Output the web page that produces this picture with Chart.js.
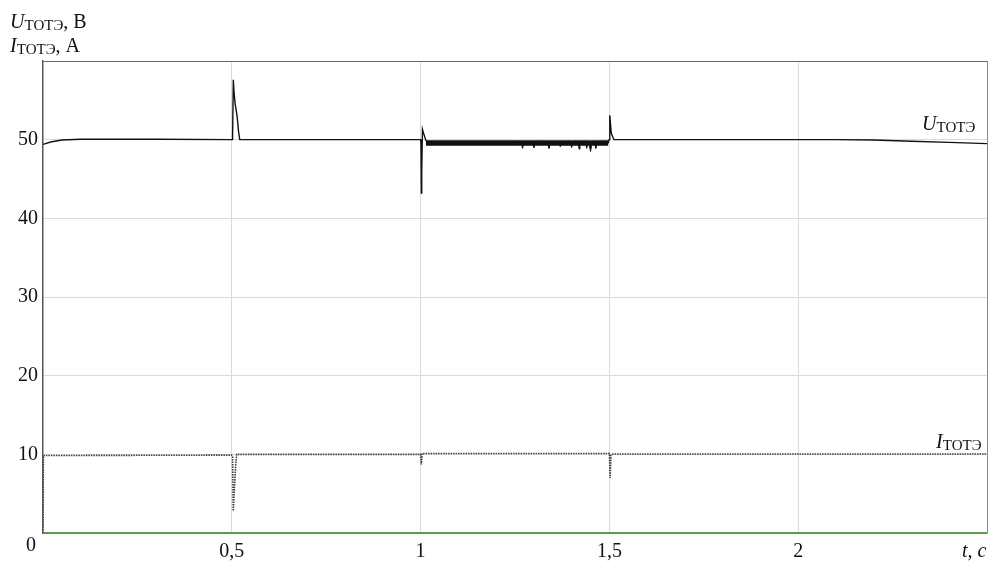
<!DOCTYPE html>
<html>
<head>
<meta charset="utf-8">
<script src="https://cdn.jsdelivr.net/npm/chart.js@4.4.1/dist/chart.umd.min.js"></script>
<style>
  body { margin: 0; background: #fff; }
  #wrap { position: relative; width: 997px; height: 561px; font-family: 'Liberation Serif', 'DejaVu Serif', serif; color: #111; }
  canvas { position: absolute; left: 0; top: 0; }
  .lbl { position: absolute; font-size: 20px; white-space: nowrap; line-height: 1; }
  .lbl i { font-style: italic; }
  .lbl sub { font-size: 15px; vertical-align: -2px; }
</style>
</head>
<body>
<div id="wrap">
  <canvas id="chart" width="997" height="561"></canvas>
  <div class="lbl" style="left:10px;top:11px"><i>U</i><sub>ТОТЭ</sub>, В</div>
  <div class="lbl" style="left:10px;top:35px"><i>I</i><sub>ТОТЭ</sub>, А</div>
  <div class="lbl" style="left:922px;top:113px"><i>U</i><sub>ТОТЭ</sub></div>
  <div class="lbl" style="left:936px;top:431px"><i>I</i><sub>ТОТЭ</sub></div>
  <div class="lbl" style="left:26px;top:534px">0</div>
  <div class="lbl" style="left:962px;top:540px"><i>t, c</i></div>
</div>
<script>
// U_TOTE voltage trace
const uTime = [0, 0.02, 0.05, 0.1, 0.3, 0.5, 0.502, 0.504, 0.506, 0.509, 0.511, 0.514, 0.518, 0.521,
  1.0, 1.001, 1.002, 1.003, 1.005, 1.008, 1.014, 1.02, 1.497, 1.499, 1.501, 1.505, 1.512,
  2.0, 2.1, 2.2, 2.3, 2.4, 2.5]
const uVolt = [49.4, 49.7, 49.95, 50.05, 50.05, 50.0, 50.0, 57.6, 56, 54.5, 54.5, 53, 51, 50.0,
  50.0, 49.5, 43.2, 46, 51.3, 50.8, 49.9, 49.6, 49.6, 50.0, 53.1, 50.8, 50.0,
  50.0, 50.0, 49.95, 49.8, 49.65, 49.5]

// noisy band of U between 1.0 and 1.5 s
const bandTime = [1.014, 1.268, 1.27, 1.272, 1.298, 1.3, 1.302, 1.338, 1.34, 1.342, 1.368, 1.37, 1.372,
  1.398, 1.4, 1.402, 1.418, 1.42, 1.422, 1.438, 1.44, 1.442, 1.447, 1.45, 1.453, 1.462, 1.464, 1.466, 1.497]
const bandTop = [49.85, 49.85, 49.85, 49.85, 49.85, 49.85, 49.85, 49.85, 49.85, 49.85, 49.85, 49.85, 49.85,
  49.85, 49.85, 49.85, 49.85, 49.85, 49.85, 49.85, 49.85, 49.85, 49.85, 49.85, 49.85, 49.85, 49.85, 49.85, 49.85]
const bandLow = [49.3, 49.3, 48.9, 49.3, 49.3, 49.0, 49.3, 49.3, 48.9, 49.3, 49.3, 49.1, 49.3,
  49.3, 49.0, 49.3, 49.3, 48.8, 49.3, 49.3, 48.9, 49.3, 49.3, 48.5, 49.3, 49.3, 48.9, 49.3, 49.3]

// I_TOTE current trace
const iTime = [0, 0.001, 0.5, 0.502, 0.504, 0.506, 0.508, 0.51, 0.513, 0.52,
  1.0, 1.002, 1.004, 1.5, 1.502, 1.504, 1.51, 2.0, 2.2, 2.5]
const iAmp = [0, 9.85, 9.9, 9.8, 2.8, 5, 6.5, 8.5, 10.0, 10.0,
  10.0, 8.7, 10.1, 10.1, 7.0, 9.9, 10.05, 10.05, 10.05, 10.05]

const zeroTime = [0, 2.5]
const zeroVal = [0, 0]

const xTicks = [0, 0.5, 1, 1.5, 2, 2.5]

function pts(t, v) { return t.map((x, i) => ({x: x, y: v[i]})) }

const serif = "'Liberation Serif', 'DejaVu Serif', serif"

new Chart(document.getElementById('chart'), {
  type: 'line',
  data: {
    datasets: [
      {data: pts(zeroTime, zeroVal), borderColor: '#5e9a4c', borderWidth: 2, clip: false},
      {data: pts(bandTime, bandTop), borderColor: '#111', borderWidth: 1, fill: false},
      {data: pts(bandTime, bandLow), borderColor: '#111', borderWidth: 1, fill: '-1', backgroundColor: '#111'},
      {data: pts(uTime, uVolt), borderColor: '#111', borderWidth: 1.4},
      {data: pts(iTime, iAmp), borderColor: '#3a3a3a', borderWidth: 1.6, borderDash: [1.5, 1]}
    ]
  },
  options: {
    responsive: false,
    animation: false,
    parsing: false,
    elements: { point: { radius: 0 }, line: { tension: 0 } },
    layout: { padding: { top: 61, right: 10, left: 0, bottom: 0 } },
    plugins: { legend: { display: false }, tooltip: { enabled: false } },
    scales: {
      x: {
        type: 'linear', min: 0, max: 2.5,
        afterBuildTicks: s => { s.ticks = xTicks.map(v => ({value: v})) },
        afterFit: s => { s.height = 28 },
        ticks: {
          padding: 7, color: '#111', maxRotation: 0, autoSkip: false,
          font: {family: serif, size: 20},
          callback: v => (v === 0 || v === 2.5) ? '' : String(v).replace('.', ',')
        },
        grid: {
          drawTicks: false,
          color: c => c.tick.value === 0 ? 'rgba(0,0,0,0)' : (c.tick.value === 2.5 ? '#888' : '#dadada')
        },
        border: { color: '#5e9a4c', width: 1.5 }
      },
      y: {
        min: 0, max: 60,
        ticks: {
          stepSize: 10, padding: 5, color: '#111',
          font: {family: serif, size: 20},
          callback: v => (v === 0 || v === 60) ? '' : v
        },
        afterFit: s => { s.width = 43 },
        grid: {
          drawTicks: false,
          color: c => c.tick.value === 0 ? 'rgba(0,0,0,0)' : (c.tick.value === 60 ? '#666' : '#dadada')
        },
        border: { color: '#555', width: 1.5 }
      }
    }
  }
})
</script>
</body>
</html>
